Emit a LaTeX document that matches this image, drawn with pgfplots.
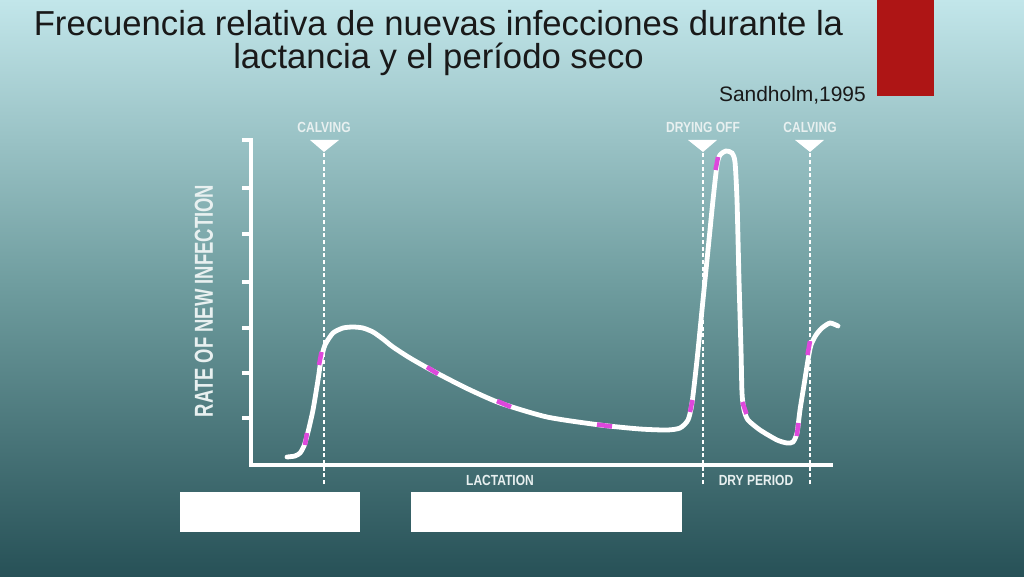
\documentclass[border=0pt]{standalone}
\usepackage{fontspec}
\setmainfont{Liberation Sans}
\usepackage{graphicx}
\usepackage{pgfplots}
\pgfplotsset{compat=1.18}
\definecolor{bgtop}{HTML}{C2E6EA}
\definecolor{bgmid}{HTML}{6E9C9E}
\definecolor{bgbot}{HTML}{275157}
\definecolor{magdash}{HTML}{DE48DC}
\definecolor{lbl}{HTML}{E8F0F0}
\definecolor{redbox}{HTML}{AE1515}
\begin{document}
\begin{tikzpicture}
\begin{axis}[
  scale only axis, width=768pt, height=432pt,
  xmin=0, xmax=1024, ymin=0, ymax=576,
  hide axis, clip=false]
% background
\shade[top color=bgtop, bottom color=bgbot, middle color=bgmid] (axis cs:0,0) rectangle (axis cs:1024,576);
% red box
\fill[redbox] (axis cs:877,480) rectangle (axis cs:934,576);
% title
\node[anchor=base, inner sep=0pt, text=black!90, font=\fontsize{26}{30}\selectfont] at (axis cs:438.5,540) {Frecuencia relativa de nuevas infecciones durante la};
\node[anchor=base, inner sep=0pt, text=black!90, font=\fontsize{26}{30}\selectfont] at (axis cs:438.5,507) {lactancia y el período seco};
\node[anchor=base east, inner sep=0pt, text=black!90, font=\fontsize{15.7}{19}\selectfont] at (axis cs:866,474) {Sandholm,1995};
% axes
\draw[white, line width=3pt] (axis cs:242,436) -- (axis cs:251,436) -- (axis cs:251,111) -- (axis cs:833,111);
\draw[white, line width=3pt] (axis cs:242,388) -- (axis cs:251,388);
\draw[white, line width=3pt] (axis cs:242,342) -- (axis cs:251,342);
\draw[white, line width=3pt] (axis cs:242,294) -- (axis cs:251,294);
\draw[white, line width=3pt] (axis cs:242,248) -- (axis cs:251,248);
\draw[white, line width=3pt] (axis cs:242,203) -- (axis cs:251,203);
\draw[white, line width=3pt] (axis cs:242,158) -- (axis cs:251,158);
% dashed verticals
\addplot[white, line width=1.4pt, dash pattern=on 3pt off 2pt] coordinates {(324,92) (324,426)};
\addplot[white, line width=1.4pt, dash pattern=on 3pt off 2pt] coordinates {(703,92) (703,426)};
\addplot[white, line width=1.4pt, dash pattern=on 3pt off 2pt] coordinates {(810,92) (810,426)};
% triangles
\fill[white] (axis cs:310,436) -- (axis cs:339,436) -- (axis cs:324,424) -- cycle;
\fill[white] (axis cs:688,436) -- (axis cs:717,436) -- (axis cs:703,424) -- cycle;
\fill[white] (axis cs:795,436) -- (axis cs:824,436) -- (axis cs:810,424) -- cycle;
% labels
\node[text=lbl, font=\bfseries\fontsize{11}{12}\selectfont] at (axis cs:324,448.5) {\scalebox{0.82}[1]{CALVING}};
\node[text=lbl, font=\bfseries\fontsize{11}{12}\selectfont] at (axis cs:703,448.5) {\scalebox{0.82}[1]{DRYING OFF}};
\node[text=lbl, font=\bfseries\fontsize{11}{12}\selectfont] at (axis cs:810,448.5) {\scalebox{0.82}[1]{CALVING}};
\node[text=lbl, font=\bfseries\fontsize{11}{12}\selectfont] at (axis cs:500,96) {\scalebox{0.82}[1]{LACTATION}};
\node[text=lbl, font=\bfseries\fontsize{11}{12}\selectfont] at (axis cs:756,96) {\scalebox{0.82}[1]{DRY PERIOD}};
\node[text=lbl, rotate=90, font=\bfseries\fontsize{19.5}{22}\selectfont] at (axis cs:204,275) {\scalebox{0.71}[1]{RATE OF NEW INFECTION}};
% curve
\addplot[white, line width=3.6pt, smooth, tension=0.4, line cap=round] coordinates {
(287,119) (295,120) (300,123) (304,130) (308,144) (313,166) (318,196) (321,216)
(325,231) (333,243) (343,248) (353,249) (363,248) (373,244) (383,237) (393,229)
(410,218) (433,205) (466,188) (500,173) (547,159) (600,151) (640,147) (667,146)
(680,148) (688,156) (692,173) (697,216) (702,266) (708,326) (713,376) (717,411)
(720,421) (726,425) (732,423) (735,414) (737,376) (739,296) (741,226) (742,183)
(744,166) (748,156) (760,146) (777,136) (787,133) (793,134) (797,143) (800,166)
(804,191) (808,216) (811,231) (816,241) (822,248) (830,253) (838,250)
};
% magenta dashes
\addplot[magdash, line width=3.4pt] coordinates {(305,131) (307,143)};
\addplot[magdash, line width=3.4pt] coordinates {(319,211) (321.5,224)};
\addplot[magdash, line width=3.4pt] coordinates {(427,209) (438,202)};
\addplot[magdash, line width=3.4pt] coordinates {(497,175) (511,169)};
\addplot[magdash, line width=3.4pt] coordinates {(597,151.5) (612,149.5)};
\addplot[magdash, line width=3.4pt] coordinates {(690,164) (692.5,176)};
\addplot[magdash, line width=3.4pt] coordinates {(715.5,406) (718,419)};
\addplot[magdash, line width=3.4pt] coordinates {(742.3,174) (746.5,162)};
\addplot[magdash, line width=3.4pt] coordinates {(796.7,140) (798.5,153)};
\addplot[magdash, line width=3.4pt] coordinates {(807.5,221) (810,235)};
% white boxes
\fill[white] (axis cs:180,44) rectangle (axis cs:360,84);
\fill[white] (axis cs:411,44) rectangle (axis cs:682,84);
\end{axis}
\end{tikzpicture}
\end{document}
